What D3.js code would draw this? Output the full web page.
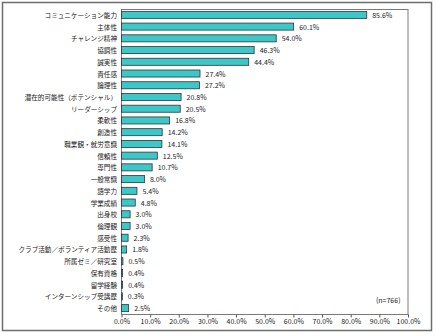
<!DOCTYPE html>
<html><head><meta charset="utf-8">
<script src="https://cdn.jsdelivr.net/npm/d3@7/dist/d3.min.js"></script>
<style>
html,body{margin:0;padding:0;background:#fff;}
svg{display:block;}
text{font-family:"Noto Sans CJK JP","Noto Sans",sans-serif;fill:#222;}
</style></head>
<body>
<script>
const categories = ["コミュニケーション能力","主体性","チャレンジ精神","協調性","誠実性","責任感","論理性","潜在的可能性（ポテンシャル）","リーダーシップ","柔軟性","創造性","職業観・就労意識","信頼性","専門性","一般常識","語学力","学業成績","出身校","倫理観","感受性","クラブ活動／ボランティア活動歴","所属ゼミ／研究室","保有資格","留学経験","インターンシップ受講歴","その他"];
const values = [85.6,60.1,54.0,46.3,44.4,27.4,27.2,20.8,20.5,16.8,14.2,14.1,12.5,10.7,8.0,5.4,4.8,3.0,3.0,2.3,1.8,0.5,0.4,0.4,0.3,2.5];
const xTicks = [0,10,20,30,40,50,60,70,80,90,100];
const note = "(n=766)";

const W = 436, H = 336;
const m = {left:121, right:28.5, top:9, bottom:22};
const svg = d3.select("body").append("svg").attr("width",W).attr("height",H);

svg.append("rect").attr("x",2.5).attr("y",2.5).attr("width",429).attr("height",328)
  .attr("fill","#fff").attr("stroke","#6e6e6e").attr("stroke-width",1.5);

const x = d3.scaleLinear().domain([0,100]).range([m.left, W-m.right]);
const y = d3.scaleBand().domain(categories).range([m.top, H-m.bottom]).paddingInner(0.4).paddingOuter(0.2);

svg.append("rect").attr("x",m.left+0.5).attr("y",m.top+0.5)
  .attr("width",W-m.right-m.left).attr("height",H-m.bottom-m.top)
  .attr("fill","none").attr("stroke","#7a7a7a").attr("stroke-width",1);

const data = categories.map((c,i)=>({c, v:values[i]}));

svg.append("g").selectAll("rect").data(data).join("rect")
  .attr("x",x(0)+0.5).attr("y",d=>y(d.c))
  .attr("width",d=>Math.max(0.8, x(d.v)-x(0)))
  .attr("height",y.bandwidth())
  .attr("fill","#3cc8c8").attr("stroke","#333").attr("stroke-width",0.8);

svg.append("g").selectAll("text").data(data).join("text")
  .attr("x",d=>x(d.v)+6).attr("y",d=>y(d.c)+y.bandwidth()/2)
  .attr("dominant-baseline","central").attr("font-size",7)
  .text(d=>d.v.toFixed(1)+"%");

svg.append("g").selectAll("text").data(data).join("text")
  .attr("x",m.left-4).attr("y",d=>y(d.c)+y.bandwidth()/2)
  .attr("text-anchor","end").attr("dominant-baseline","central").attr("font-size",6.6)
  .text(d=>d.c);

const axis = d3.axisBottom(x).tickValues(xTicks).tickSize(3).tickFormat(d=>d.toFixed(1)+"%");
const ag = svg.append("g").attr("transform",`translate(0.5,${H-m.bottom+0.5})`).call(axis);
ag.select(".domain").remove();
ag.selectAll("line").attr("stroke","#555");
ag.selectAll("text").attr("font-size",7).attr("dy","0.9em").attr("y",3);

svg.append("text").attr("x",W-m.right-7).attr("y",H-m.bottom-11)
  .attr("text-anchor","end").attr("font-size",7).text(note);
</script>
</body></html>
